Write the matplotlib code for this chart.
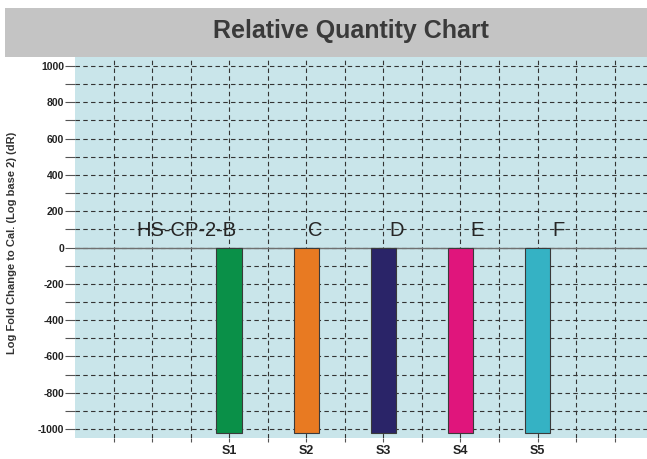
import matplotlib
matplotlib.use("Agg")
import matplotlib.pyplot as plt
from matplotlib.patches import Rectangle
import numpy as np

plt.rcParams['font.family'] = ['Liberation Sans', 'DejaVu Sans']

samples = ["S1", "S2", "S3", "S4", "S5"]
targets = ["HS-CP-2-B", "C", "D", "E", "F"]
values = [-1020, -1020, -1020, -1020, -1020]
colors = ["#0a9048", "#e87a22", "#2a2468", "#e0157c", "#35b2c4"]
label_x = [0.45, 2.12, 3.17, 4.22, 5.27]
label_y = 95
yticks = list(range(-1000, 1001, 200))

W, H = 647, 459
fig = plt.figure(figsize=(W / 100, H / 100), dpi=100)

# Title bar
fig.patches.append(Rectangle((5 / W, 1 - 57 / H), 1 - 5 / W, 49 / H,
                             transform=fig.transFigure, facecolor="#c4c4c4",
                             edgecolor="none", zorder=0))
fig.text(351 / W, 1 - 31 / H, "Relative Quantity Chart", ha="center", va="center",
         fontsize=18, fontweight="bold", color="#3a3a3a")

ax = fig.add_axes([75 / W, 21 / H, 1 - 75 / W, (438 - 57) / H])
ax.set_facecolor("#c9e5ea")
for s in ax.spines.values():
    s.set_visible(False)

x = np.arange(1, len(samples) + 1)
ax.bar(x, values, width=0.33, color=colors, edgecolor="#3a3a3a", linewidth=0.8, zorder=3)
ax.axhline(0, color="#707070", linewidth=1.0, zorder=2)

ax.set_xlim(-1.0, 6.42)
ax.set_ylim(-1050, 1050)

# grid
ax.set_yticks(yticks)
ax.set_yticks(list(range(-900, 1000, 200)), minor=True)
ax.set_xticks(x)
ax.set_xticks(np.arange(-0.5, 6.4, 0.5), minor=True)
ax.grid(True, which="both", axis="both", linestyle=(0, (4, 3)), color="#333333",
        linewidth=0.8, zorder=1)

ax.set_xticklabels(samples, fontsize=9, fontweight="bold", color="#222222")
ax.set_yticklabels([str(v) for v in yticks], fontsize=7.5, fontweight="bold", color="#222222")
ax.tick_params(axis="y", which="both", length=7, width=0.8, color="#555555", pad=1)
ax.tick_params(axis="x", which="both", length=3, width=0.8, color="#555555", pad=2)

for lx, t in zip(label_x, targets):
    ax.text(lx, label_y, t, ha="center", va="center", fontsize=14.5, color="#262626", zorder=4)

fig.text(12 / W, 1 - 243 / H, "Log Fold Change to Cal. (Log base 2) (dR)", rotation=90,
         ha="center", va="center", fontsize=8, fontweight="bold", color="#333333")

fig.savefig("out.png", dpi=100, facecolor="white")
